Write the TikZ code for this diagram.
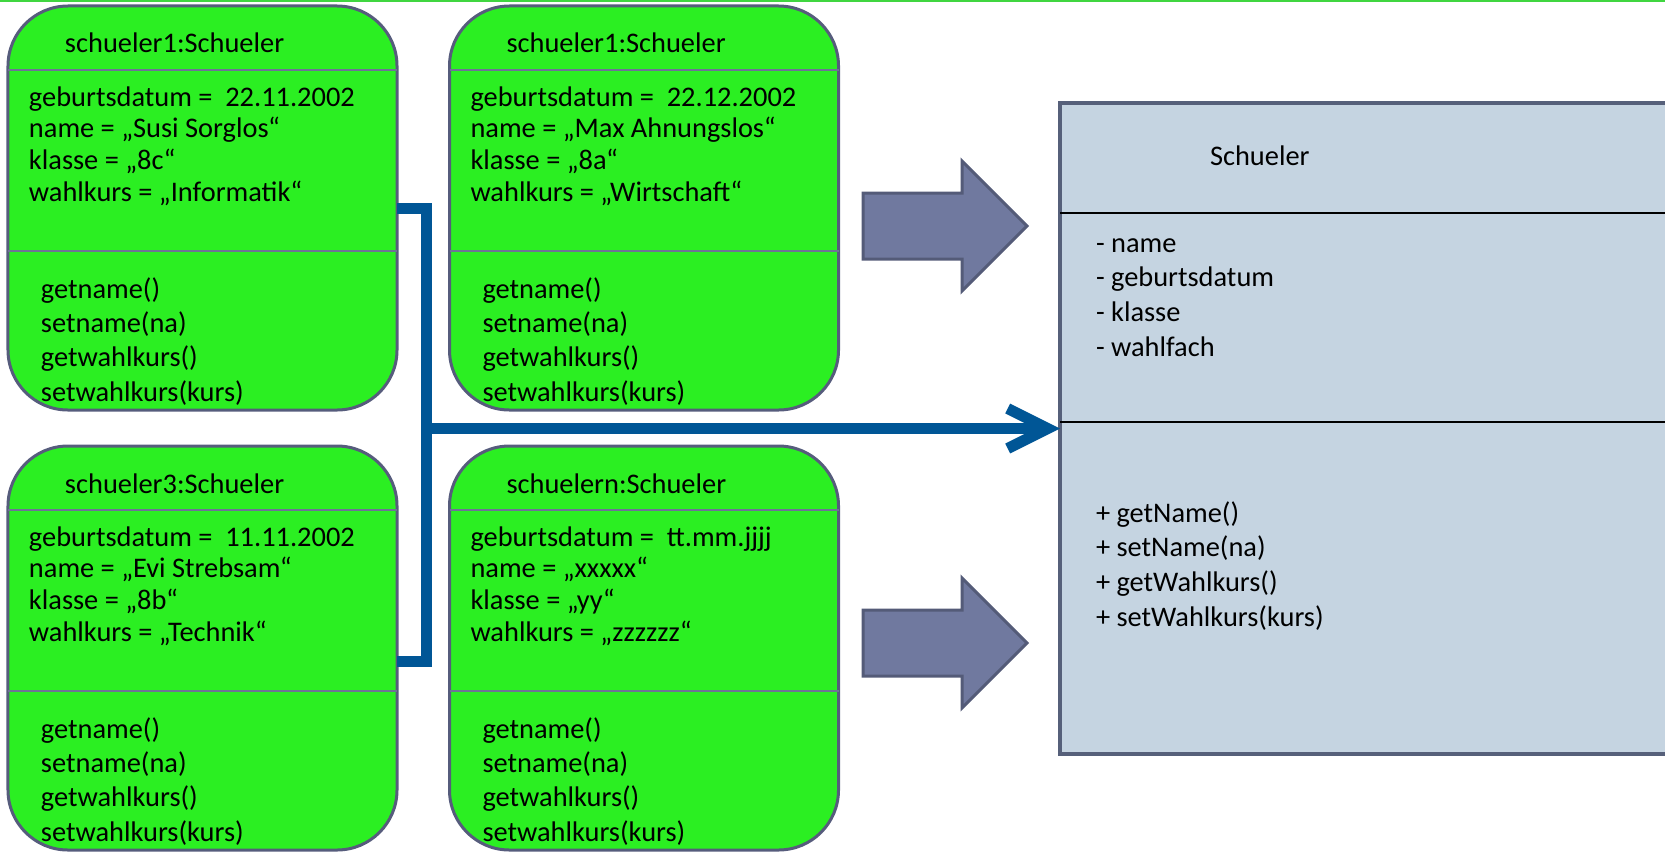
\documentclass[tikz,border=0pt]{standalone}
\usepackage{fontspec}
\setmainfont{Carlito}
\usetikzlibrary{shapes.arrows, positioning, calc, arrows.meta}

\definecolor{objgruen}{RGB}{43,239,34}
\definecolor{rahmen}{RGB}{86,92,124}
\definecolor{trennlinie}{RGB}{110,115,150}
\definecolor{klassenblau}{RGB}{197,212,225}
\definecolor{klassenrand}{RGB}{86,96,122}
\definecolor{pfeilgrau}{RGB}{112,121,159}
\definecolor{pfeilrand}{RGB}{84,91,120}
\definecolor{linienblau}{RGB}{0,86,150}
\definecolor{obengruen}{RGB}{64,214,64}

\newcommand{\hoch}{\rule{0pt}{22bp}}

\begin{document}
\begin{tikzpicture}[x=1bp,y=-1bp]
\tikzstyle{objekt}=[rectangle, draw=rahmen, line width=3bp, fill=objgruen, rounded corners=60bp, minimum width=389bp, minimum height=404bp, inner sep=0pt, outer sep=0pt]
\tikzstyle{klasse}=[rectangle, draw=klassenrand, line width=3.5bp, fill=klassenblau, minimum width=640bp, minimum height=651bp, inner sep=0pt, outer sep=0pt]
\tikzstyle{trenn}=[draw=trennlinie, line width=2bp]
\tikzstyle{schrift}=[inner sep=0pt, outer sep=0pt, font=\fontsize{28.5}{32}\selectfont, align=left]
\tikzstyle{kopf}=[schrift, anchor=base west]
\tikzstyle{werte}=[schrift, anchor=north west]
\tikzstyle{methoden}=[schrift, anchor=north west, font=\fontsize{28.5}{34.5}\selectfont]
\tikzstyle{liste}=[schrift, anchor=north west, font=\fontsize{28.5}{35}\selectfont]
\tikzstyle{blockpfeil}=[single arrow, draw=pfeilrand, line width=3bp, fill=pfeilgrau, minimum height=164bp, inner xsep=0pt, inner ysep=31.5bp, outer sep=0pt, single arrow head extend=32bp, anchor=tip]
\tikzstyle{verbinder}=[draw=linienblau, line width=11bp]

\useasboundingbox (0,0) rectangle (1665,851);
\clip (0,0) rectangle (1665,851);
\draw[obengruen, line width=2bp] (0,1) -- (1665,1);

\node[objekt] (s1) at (202.5,208) {};
\node[objekt] (s2) at (644,208) {};
\node[objekt] (s3) at (202.5,648) {};
\node[objekt] (s4) at (644,648) {};

\draw[trenn] ($(s1.north west)+(0,64)$) -- ($(s1.north east)+(0,64)$);
\draw[trenn] ($(s1.north west)+(0,245)$) -- ($(s1.north east)+(0,245)$);
\draw[trenn] ($(s2.north west)+(0,64)$) -- ($(s2.north east)+(0,64)$);
\draw[trenn] ($(s2.north west)+(0,245)$) -- ($(s2.north east)+(0,245)$);
\draw[trenn] ($(s3.north west)+(0,64)$) -- ($(s3.north east)+(0,64)$);
\draw[trenn] ($(s3.north west)+(0,245)$) -- ($(s3.north east)+(0,245)$);
\draw[trenn] ($(s4.north west)+(0,64)$) -- ($(s4.north east)+(0,64)$);
\draw[trenn] ($(s4.north west)+(0,245)$) -- ($(s4.north east)+(0,245)$);

\node[kopf] (k1) at ($(s1.north west)+(57,47)$) {schueler1:Schueler};
\node[werte] (a1) at ($(s1.north west)+(21,78)$) {\hoch geburtsdatum = \ 22.11.2002\\ name = „Susi Sorglos“\\ klasse = „8c“\\ wahlkurs = „Informatik“};
\node[methoden] (m1) at ($(s1.north west)+(33,270)$) {\hoch getname()\\ setname(na)\\ getwahlkurs()\\ setwahlkurs(kurs)};

\node[kopf] (k2) at ($(s2.north west)+(57,47)$) {schueler1:Schueler};
\node[werte] (a2) at ($(s2.north west)+(21,78)$) {\hoch geburtsdatum = \ 22.12.2002\\ name = „Max Ahnungslos“\\ klasse = „8a“\\ wahlkurs = „Wirtschaft“};
\node[methoden] (m2) at ($(s2.north west)+(33,270)$) {\hoch getname()\\ setname(na)\\ getwahlkurs()\\ setwahlkurs(kurs)};

\node[kopf] (k3) at ($(s3.north west)+(57,47)$) {schueler3:Schueler};
\node[werte] (a3) at ($(s3.north west)+(21,78)$) {\hoch geburtsdatum = \ 11.11.2002\\ name = „Evi Strebsam“\\ klasse = „8b“\\ wahlkurs = „Technik“};
\node[methoden] (m3) at ($(s3.north west)+(33,270)$) {\hoch getname()\\ setname(na)\\ getwahlkurs()\\ setwahlkurs(kurs)};

\node[kopf] (k4) at ($(s4.north west)+(57,47)$) {schuelern:Schueler};
\node[werte] (a4) at ($(s4.north west)+(21,78)$) {\hoch geburtsdatum = \ tt.mm.jjjj\\ name = „xxxxx“\\ klasse = „yy“\\ wahlkurs = „zzzzzz“};
\node[methoden] (m4) at ($(s4.north west)+(33,270)$) {\hoch getname()\\ setname(na)\\ getwahlkurs()\\ setwahlkurs(kurs)};

\node[klasse] (kl) at (1380,428.5) {};
\draw[black, line width=2bp] ($(kl.north west)+(0,110)$) -- ($(kl.north east)+(0,110)$);
\draw[black, line width=2bp] ($(kl.north west)+(0,319)$) -- ($(kl.north east)+(0,319)$);
\node[kopf] (kn) at ($(kl.north west)+(150,63)$) {Schueler};
\node[liste] (ka) at ($(kl.north west)+(36,127)$) {\hoch - name\\ - geburtsdatum\\ - klasse\\ - wahlfach};
\node[liste] (km) at ($(kl.north west)+(36,397)$) {\hoch + getName()\\ + setName(na)\\ + getWahlkurs()\\ + setWahlkurs(kurs)};

\node[blockpfeil] (p1) at (1027,226) {};
\node[blockpfeil] (p2) at (1027,643) {};

\coordinate (knoten) at (426,428.5);
\draw[verbinder] (s1.east) -| (knoten) |- ($(s3.east)+(0,13)$);
\draw[verbinder, -{Straight Barb[length=40bp, width=40bp]}] (knoten) -- (kl.west |- knoten);

\end{tikzpicture}
\end{document}
